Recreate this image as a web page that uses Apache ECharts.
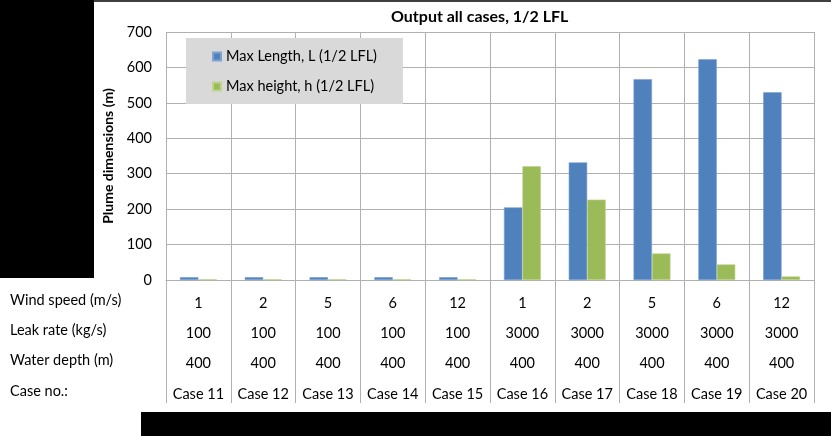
<!DOCTYPE html>
<html><head><meta charset="utf-8">
<script src="https://cdn.jsdelivr.net/npm/echarts@6/dist/echarts.min.js"></script>
<style>html,body{margin:0;padding:0;background:#fff}#c{width:831px;height:436px}</style>
</head><body><div id="c"></div>
<script>
var cases = ['Case 11','Case 12','Case 13','Case 14','Case 15','Case 16','Case 17','Case 18','Case 19','Case 20'];
var windSpeed = [1, 2, 5, 6, 12, 1, 2, 5, 6, 12];
var leakRate = [100, 100, 100, 100, 100, 3000, 3000, 3000, 3000, 3000];
var waterDepth = [400, 400, 400, 400, 400, 400, 400, 400, 400, 400];
var maxLength = [8, 8, 8, 8, 8, 205, 332, 567, 623, 530];
var maxHeight = [2, 2, 2, 2, 2, 321, 227, 75, 44, 10];
var rowLabels = ['Wind speed (m/s)', 'Leak rate (kg/s)', 'Water depth (m)', 'Case no.:'];
var yTicks = [0, 100, 200, 300, 400, 500, 600, 700];

var FONT = 'Lato, "Open Sans", sans-serif';
var chart = echarts.init(document.getElementById('c'));
var rowY = [302, 332, 362, 393];
var graphics = [
  {type:'rect', shape:{x:0,y:0,width:94,height:278}, style:{fill:'#000'}, z:100},
  {type:'rect', shape:{x:141,y:412,width:690,height:24}, style:{fill:'#000'}, z:100},
  {type:'rect', shape:{x:94,y:0,width:737,height:2}, style:{fill:'#404040'}, z:100}
];
rowLabels.forEach(function(t, i){
  graphics.push({type:'text', left:10, top:rowY[i]-9, style:{text:t, font:'14.5px ' + FONT, fill:'#000'}});
});
chart.setOption({
  animation:false,
  title:{text:'Output all cases, 1/2 LFL', left:386, top:4,
    textStyle:{fontFamily:FONT, fontSize:16, fontWeight:'bold', color:'#000'}},
  legend:{orient:'vertical', left:186, top:38, backgroundColor:'#d9d9d9',
    padding:[11, 26, 10, 26], itemGap:15, itemWidth:8, itemHeight:8, icon:'rect',
    textStyle:{fontFamily:FONT, fontSize:14.5, color:'#000'},
    data:['Max Length, L (1/2 LFL)','Max height, h (1/2 LFL)']},
  grid:{left:166, right:17, top:32, bottom:156},
  xAxis:{type:'category', data:cases,
    axisLine:{lineStyle:{color:'#b0b0b0'}},
    axisTick:{show:true, length:123, lineStyle:{color:'#b0b0b0'}},
    splitLine:{show:true, lineStyle:{color:'#b0b0b0'}},
    axisLabel:{interval:0, margin:8, lineHeight:30.3, fontFamily:FONT, fontSize:14.5, color:'#000',
      formatter:function(v, i){ return windSpeed[i] + '\n' + leakRate[i] + '\n' + waterDepth[i] + '\n' + v; }}},
  yAxis:{type:'value', min:0, max:700, interval:100,
    name:'Plume dimensions (m)', nameLocation:'middle', nameGap:42,
    nameTextStyle:{fontFamily:FONT, fontSize:14, fontWeight:'bold', color:'#000'},
    axisLine:{show:false}, axisTick:{show:false},
    splitLine:{lineStyle:{color:'#b0b0b0'}},
    axisLabel:{margin:14, fontFamily:FONT, fontSize:14.5, color:'#000',
      formatter:function(v){ return yTicks.indexOf(v) >= 0 ? String(v) : ''; }}},
  series:[
    {name:'Max Length, L (1/2 LFL)', type:'bar', data:maxLength, barGap:'0%', barCategoryGap:'43%',
      itemStyle:{color:'#4f81bd', borderColor:'#7ea3d1', borderWidth:0.6}},
    {name:'Max height, h (1/2 LFL)', type:'bar', data:maxHeight,
      itemStyle:{color:'#9bbb59', borderColor:'#bcd48b', borderWidth:0.6}}
  ],
  graphic:graphics
});
</script></body></html>
